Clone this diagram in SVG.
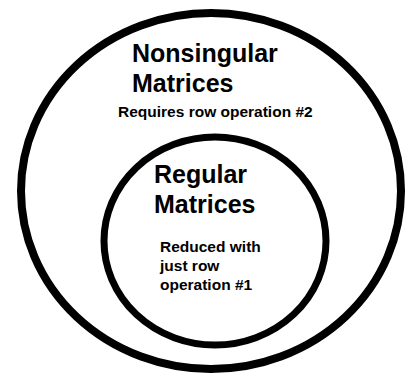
<svg xmlns="http://www.w3.org/2000/svg" width="407" height="373" viewBox="0 0 407 373">
<style>
.set{fill:none;stroke:#000}
.title{font-family:"Liberation Sans",Arial,sans-serif;font-weight:bold;font-size:25px;fill:#000}
.note{font-family:"Liberation Sans",Arial,sans-serif;font-weight:bold;font-size:15.5px;fill:#000}
</style>
<rect width="407" height="373" fill="#fff"/>
<g id="nonsingular">
<ellipse class="set" cx="211" cy="191" rx="190" ry="178" stroke-width="8"/>
<text class="title" x="132" y="62">Nonsingular</text>
<text class="title" x="132" y="92">Matrices</text>
<text class="note" x="118" y="117">Requires row operation #2</text>
</g>
<g id="regular">
<ellipse class="set" cx="215" cy="241" rx="111" ry="104" stroke-width="7"/>
<text class="title" x="154" y="183">Regular</text>
<text class="title" x="154" y="213">Matrices</text>
<text class="note" x="160" y="252">Reduced with</text>
<text class="note" x="160" y="271">just row</text>
<text class="note" x="160" y="290">operation #1</text>
</g>
<g id="connectors"/>
</svg>
